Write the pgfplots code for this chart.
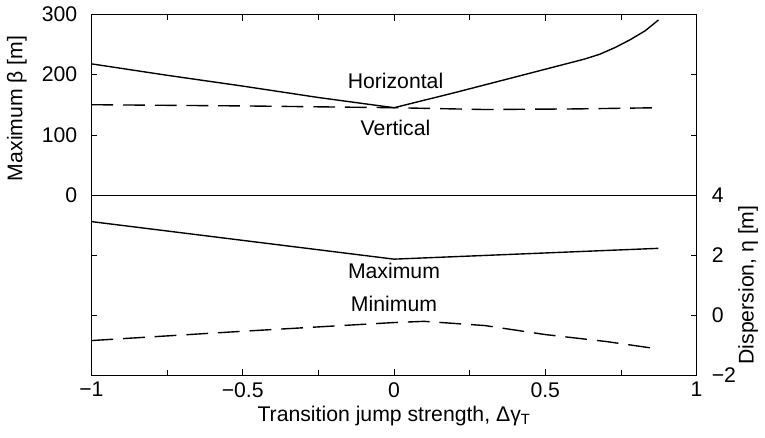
\documentclass[border=0pt]{standalone}
\usepackage{pgfplots}
\pgfplotsset{compat=1.18}
\usepackage{fontspec}
\setmainfont{Liberation Sans}
\begin{document}
\fontsize{21.5}{25}\selectfont
\begin{tikzpicture}
\pgfplotsset{
  every axis/.append style={
    scale only axis, width=611bp, height=182bp,
    xmin=-1, xmax=1,
    xtick={-1,-0.5,0,0.5,1},
    minor xtick={-0.75,-0.25,0.25,0.75},
    tick align=inside,
    major tick length=6bp, minor tick length=5bp,
    tick style={black, line width=0.5pt},
    axis line style={line width=0.6pt},
    font=\fontsize{21.5}{25}\selectfont,
    /pgf/number format/assume math mode=true,
  }
}
\begin{axis}[at={(0bp,182bp)}, anchor=south west,
  ymin=0, ymax=300, ytick={0,100,200,300},
  xtick pos=upper, xticklabels={},
  ytick pos=both, yticklabel pos=left,
  yticklabel style={xshift=-7bp},
  ylabel={Maximum β [m]},
  ylabel style={at={(axis description cs:-0.123,0.48)}, anchor=center}]
\addplot[black, line width=1.4bp] coordinates {(-1,218) (-0.75,199) (-0.5,181) (-0.25,162) (0,145) (0.2,170) (0.4,196) (0.63,226) (0.68,234) (0.73,245) (0.78,258) (0.83,273) (0.874,291)};
\addplot[black, line width=1.4bp, dash pattern=on 22bp off 10bp] coordinates {(-1,150) (-0.5,148) (0,145) (0.3,142) (0.6,143) (0.874,145)};
\node at (axis cs:0.005,190) {Horizontal};
\node at (axis cs:0.005,112) {Vertical};
\end{axis}
\begin{axis}[at={(0bp,0bp)}, anchor=south west,
  ymin=-2, ymax=4, ytick={-2,0,2,4}, yticklabels={−2,0,2,4},
  xtick pos=lower, xticklabels={−1,−0.5,0,0.5,1},
  ytick pos=both, yticklabel pos=right,
  yticklabel style={xshift=8bp},
  ylabel={Dispersion, η [m]},
  ylabel style={at={(axis description cs:1.085,0.5)}, anchor=center},
  xlabel={Transition jump strength, Δγ\textsubscript{T}},
  xlabel style={at={(axis description cs:0.5,-0.225)}, anchor=center}]
\addplot[black, line width=1.4bp] coordinates {(-1,3.11) (0,1.86) (0.874,2.22)};
\addplot[black, line width=1.4bp, dash pattern=on 22bp off 10bp] coordinates {(-1,-0.85) (-0.5,-0.54) (0,-0.25) (0.1,-0.21) (0.3,-0.35) (0.5,-0.65) (0.7,-0.88) (0.874,-1.13)};
\node at (axis cs:0,1.46) {Maximum};
\node at (axis cs:0,0.37) {Minimum};
\end{axis}
\path[use as bounding box] (-92bp,-63bp) rectangle (673bp,377bp);
\end{tikzpicture}
\end{document}
